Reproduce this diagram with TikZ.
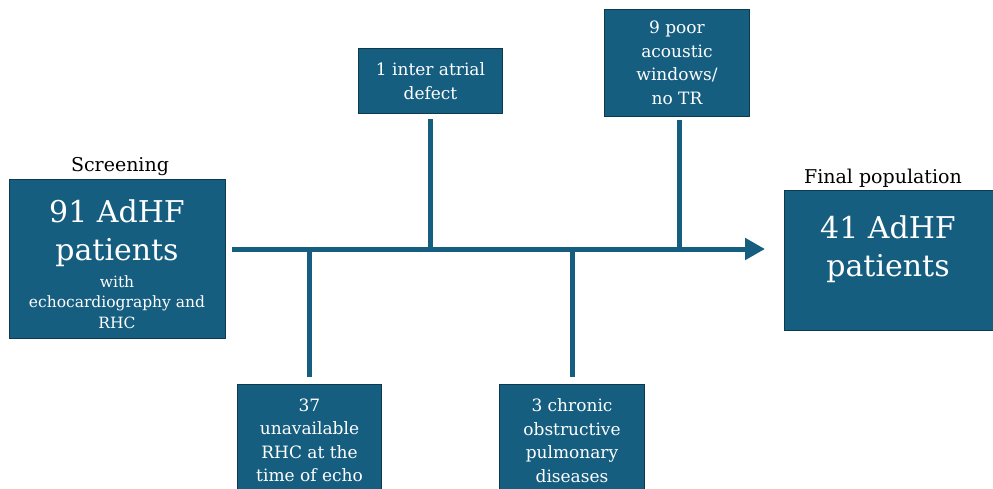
\documentclass[tikz,border=0pt]{standalone}
\usepackage{fontspec}
\setmainfont{DejaVu Serif}
\usetikzlibrary{arrows.meta}
\definecolor{boxfill}{HTML}{165E80}
\definecolor{boxline}{HTML}{0E3A50}
\begin{document}
\begin{tikzpicture}[x=1pt,y=-1pt,
  box/.style={draw=boxline,line width=1pt,fill=boxfill,text=white,align=center,
    inner sep=0pt,anchor=north west,font=\fontsize{17}{23.5}\selectfont},
  bigtext/.style={text=white,align=center,inner sep=0pt,font=\fontsize{30}{38}\selectfont},
  smalltext/.style={text=white,align=center,inner sep=0pt,font=\fontsize{15.5}{20.5}\selectfont},
  caption/.style={inner sep=0pt,anchor=base,font=\fontsize{19}{22}\selectfont},
  conn/.style={draw=boxfill,line width=5pt}]
\useasboundingbox (0,0) rectangle (993,488);
\begin{scope}
\clip (0,0) rectangle (993,488);
% boxes
\node[box,minimum width=216pt,minimum height=159pt] (screen) at (9,179) {};
\node[bigtext,anchor=base] (screenbig) at (117,260) {91 AdHF\\patients};
\node[smalltext,anchor=base] (screensmall) at (117,328) {with\\echocardiography and\\RHC};
\node[box,minimum width=144pt,minimum height=65pt] (top1) at (358,48) {1 inter atrial\\defect};
\node[box,minimum width=145pt,minimum height=107pt] (top2) at (604,9) {9 poor\\acoustic\\windows/\\no TR};
\node[box,minimum width=144pt,minimum height=112pt] (bot1) at (237,384) {37\\unavailable\\RHC at the\\time of echo};
\node[box,minimum width=145pt,minimum height=112pt] (bot2) at (499,384) {3 chronic\\obstructive\\pulmonary\\diseases};
\node[box,minimum width=210pt,minimum height=140pt] (final) at (784,190) {};
\node[bigtext,anchor=base] (finaltext) at (888,276) {41 AdHF\\patients};
\end{scope}
% captions
\node[caption] (screencap) at (120,171) {Screening};
\node[caption] (finalcap) at (883,183) {Final population};
% connectors
\coordinate (start) at (232,249);
\coordinate (tip) at (765,249);
\coordinate (j1) at (top1.south |- start);
\coordinate (j2) at (679,249);
\coordinate (j3) at (bot1.north |- start);
\coordinate (j4) at (572,249);
\draw[conn,-{Triangle[length=20pt,width=21pt]}] (start) -- (tip);
\draw[conn] ([yshift=-5pt]top1.south) -- (j1);
\draw[conn] (679,120) -- (j2);
\draw[conn] ([yshift=7pt]bot1.north) -- (j3);
\draw[conn] (572,377) -- (j4);
\end{tikzpicture}
\end{document}
